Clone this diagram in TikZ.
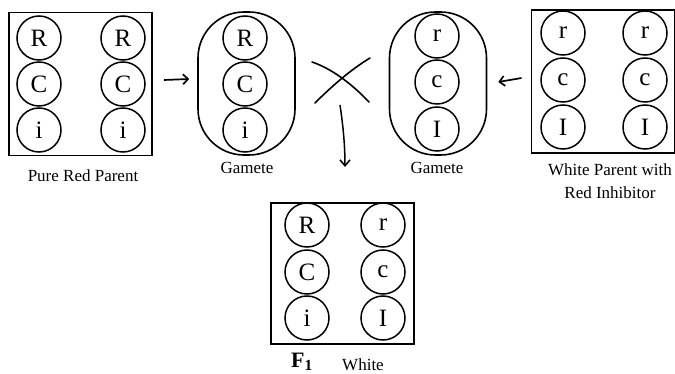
\documentclass[tikz,border=0pt]{standalone}
\usepackage{fontspec}
\setmainfont{Liberation Serif}
\usetikzlibrary{arrows.meta}
\begin{document}
\begin{tikzpicture}[x=1pt,y=-1pt,
  gene/.style={circle,draw,line width=1.5pt,minimum size=44pt,inner sep=0pt,font=\fontsize{25}{25}\selectfont},
  frame/.style={draw,line width=1.9pt,minimum width=143pt,minimum height=143pt,inner sep=0pt},
  gam/.style={draw,line width=1.6pt,rounded corners=46pt,minimum width=97pt,minimum height=143pt,inner sep=0pt},
  lab/.style={font=\fontsize{17}{19}\selectfont,inner sep=0pt},
  arr/.style={line width=1.7pt,-{Straight Barb[length=5pt,width=10pt]}},
  cross/.style={line width=1.6pt,line cap=round}]
\useasboundingbox (0,0) rectangle (675,374);
% left parent
\node[frame] (lbox) at (80.5,84) {};
\node[gene] (l1) at (39,38) {R};
\node[gene] (l2) at (39,84) {C};
\node[gene] (l3) at (39,130) {i};
\node[gene] (l4) at (123,38) {R};
\node[gene] (l5) at (123,84) {C};
\node[gene] (l6) at (123,130) {i};
\node[lab] (llab) at (83,176) {Pure Red Parent};
% left gamete
\node[gam] (lg) at (246.5,83.5) {};
\node[gene] (g1) at (245,38) {R};
\node[gene] (g2) at (245,84) {C};
\node[gene] (g3) at (245,130) {i};
\node[lab] (lglab) at (247,168) {Gamete};
% right gamete
\node[gam] (rg) at (438,83.5) {};
\node[gene] (h1) at (437,36) {r};
\node[gene] (h2) at (437,82) {c};
\node[gene] (h3) at (437,129) {I};
\node[lab] (rglab) at (437,168) {Gamete};
% right parent
\node[frame] (rbox) at (603,81.5) {};
\node[gene] (r1) at (563,33) {r};
\node[gene] (r2) at (563,80) {c};
\node[gene] (r3) at (563,127) {I};
\node[gene] (r4) at (645,33) {r};
\node[gene] (r5) at (645,80) {c};
\node[gene] (r6) at (645,127) {I};
\node[lab] (rlab1) at (610,170) {White Parent with};
\node[lab] (rlab2) at (610,193) {Red Inhibitor};
% F1
\node[frame,minimum height=141pt] (fbox) at (342.5,273.5) {};
\node[gene] (f1) at (307,225) {R};
\node[gene] (f2) at (307,272) {C};
\node[gene] (f3) at (307,318) {i};
\node[gene] (f4) at (383,225) {r};
\node[gene] (f5) at (383,272) {c};
\node[gene] (f6) at (383,318) {I};
\node[lab,font=\fontsize{22}{22}\selectfont\bfseries] (flab) at (302,362) {F\textsubscript{1}};
\node[lab] (wlab) at (363,365) {White};
% arrows
\draw[arr] ([xshift=11pt,yshift=4pt]lbox.east) -- ([xshift=-8pt,yshift=4.5pt]lg.west);
\draw[arr] ([xshift=-9pt,yshift=3.5pt]rbox.west) -- ([xshift=11pt,yshift=1.5pt]rg.east);
% cross
\coordinate (c1) at (312,62);
\coordinate (c2) at (369,102);
\coordinate (c3) at (315,103);
\coordinate (c4) at (370,58);
\draw[cross] (c1) .. controls (330,68) and (350,82) .. (c2);
\draw[cross] (c3) .. controls (330,88) and (350,70) .. (c4);
\coordinate (d1) at (340,105);
\coordinate (d2) at (345,167);
\draw[line width=1.5pt,-{Straight Barb[length=6pt,width=10pt]}] (d1) .. controls (343,125) and (345,145) .. (d2);
\end{tikzpicture}
\end{document}
